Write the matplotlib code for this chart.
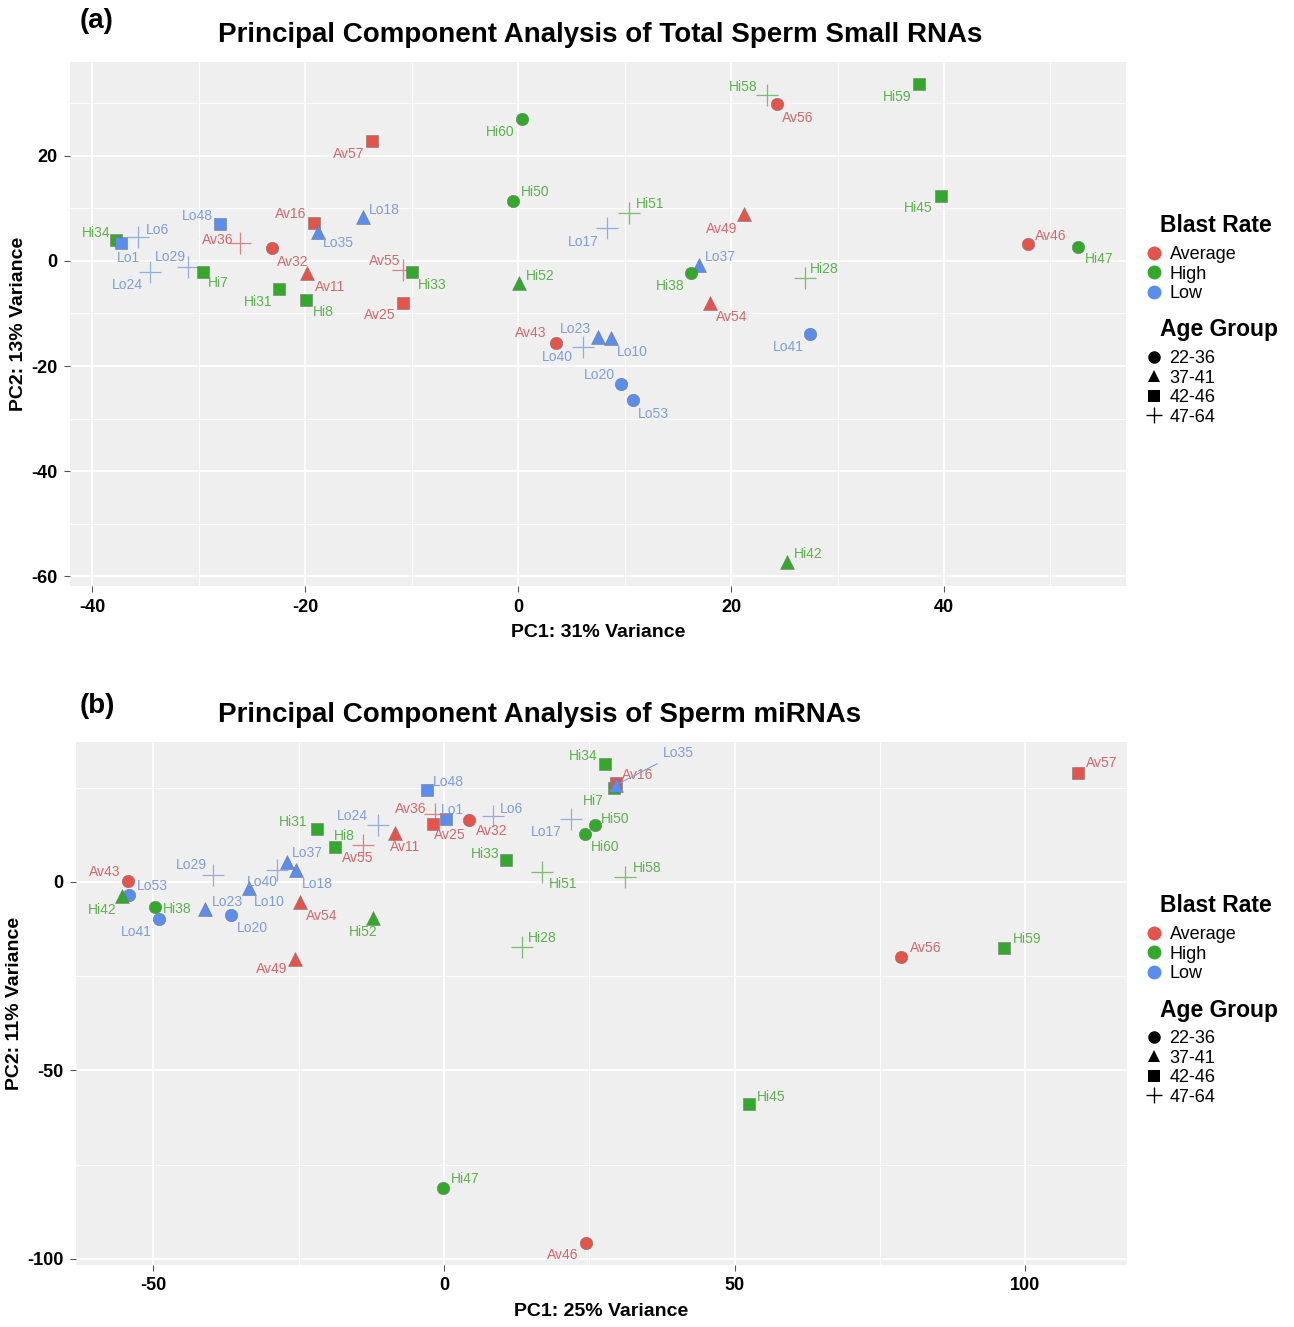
# PCA de small RNAs de esperma - dois painéis (a) e (b)
import numpy as np
import matplotlib.pyplot as plt
from matplotlib.lines import Line2D

plt.rcParams['font.family'] = ['Liberation Sans', 'DejaVu Sans']
plt.rcParams['axes.unicode_minus'] = False

# amostras (mesma ordem nos dois painéis)
amostras = ['Hi34', 'Lo1', 'Lo6', 'Lo29', 'Lo24', 'Lo48', 'Av36', 'Hi7', 'Av32', 'Hi31',
            'Av16', 'Lo35', 'Av11', 'Hi8', 'Lo18', 'Av57', 'Av55', 'Hi33', 'Av25', 'Hi60',
            'Hi50', 'Hi51', 'Lo17', 'Hi52', 'Av49', 'Lo37', 'Hi38', 'Av54', 'Hi58', 'Av56',
            'Hi59', 'Hi45', 'Av46', 'Hi47', 'Hi28', 'Lo41', 'Av43', 'Lo40', 'Lo23', 'Lo10',
            'Lo20', 'Lo53', 'Hi42']
blast = ['High', 'Low', 'Low', 'Low', 'Low', 'Low', 'Average', 'High', 'Average', 'High',
         'Average', 'Low', 'Average', 'High', 'Low', 'Average', 'Average', 'High', 'Average', 'High',
         'High', 'High', 'Low', 'High', 'Average', 'Low', 'High', 'Average', 'High', 'Average',
         'High', 'High', 'Average', 'High', 'High', 'Low', 'Average', 'Low', 'Low', 'Low',
         'Low', 'Low', 'High']
idade = ['42-46', '42-46', '47-64', '47-64', '47-64', '42-46', '47-64', '42-46', '22-36', '42-46',
         '42-46', '37-41', '37-41', '42-46', '37-41', '42-46', '47-64', '42-46', '42-46', '22-36',
         '22-36', '47-64', '47-64', '37-41', '37-41', '37-41', '22-36', '37-41', '47-64', '22-36',
         '42-46', '42-46', '22-36', '22-36', '47-64', '22-36', '22-36', '47-64', '37-41', '37-41',
         '22-36', '22-36', '37-41']

# painel (a): total small RNAs
pc1_a = [-37.8, -37.3, -35.7, -31.0, -34.6, -28.0, -26.1, -29.6, -23.1, -22.5,
         -19.2, -18.8, -19.8, -19.9, -14.6, -13.7, -10.8, -10.0, -10.8, 0.4,
         -0.5, 10.4, 8.3, 0.1, 21.2, 17.0, 16.2, 18.0, 23.4, 24.3,
         37.7, 39.7, 47.9, 52.6, 26.9, 27.4, 3.6, 6.1, 7.5, 8.7,
         9.7, 10.8, 25.3]
pc2_a = [4.0, 3.4, 4.6, -1.1, -2.1, 7.0, 3.4, -2.1, 2.5, -5.3,
         7.2, 5.5, -2.3, -7.4, 8.4, 22.9, -1.7, -2.1, -8.0, 27.0,
         11.4, 9.1, 6.3, -4.2, 9.0, -0.8, -2.3, -8.0, 31.6, 29.9,
         33.7, 12.4, 3.2, 2.7, -3.2, -13.9, -15.6, -16.4, -14.5, -14.7,
         -23.4, -26.5, -57.3]

# painel (b): miRNAs
pc1_b = [27.7, 0.3, 8.4, -39.8, -11.4, -2.9, -1.5, 29.2, 4.3, -21.9,
         29.6, 29.6, -8.4, -18.8, -25.5, 109.1, -13.9, 10.7, -1.9, 24.3,
         26.0, 16.8, 21.8, -12.2, -25.6, -27.0, -49.7, -24.8, 31.2, 78.7,
         96.4, 52.5, 24.4, -0.2, 13.4, -49.1, -54.4, -28.7, -41.1, -33.6,
         -36.7, -54.2, -55.4]
pc2_b = [31.3, 16.7, 17.5, 1.9, 15.1, 24.4, 18.0, 25.0, 16.4, 14.1,
         26.3, 25.7, 13.0, 9.3, 3.2, 28.9, 9.8, 5.8, 15.4, 12.7,
         15.1, 2.7, 16.7, -9.5, -20.4, 5.3, -6.6, -5.3, 1.3, -20.0,
         -17.6, -58.9, -95.8, -81.2, -17.2, -9.8, 0.3, 3.2, -7.2, -1.6,
         -8.8, -3.4, -3.7]

# deslocamento dos rótulos (pixels), imitando o ggrepel
off_a = [(-20, 7), (7, -15), (19, 7), (-18, 10), (-22, -13), (-23, 8), (-23, 3), (15, -11), (21, -14), (-21, -13),
         (-23, 9), (20, -11), (23, -14), (17, -12), (22, 7), (-24, -13), (-18, 9), (20, -13), (-23, -12), (-22, -13),
         (22, 9), (21, 9), (-23, -14), (21, 7), (-22, -15), (21, 8), (-20, -13), (22, -14), (-24, 8), (21, -14),
         (-22, -13), (-23, -12), (23, 8), (21, -12), (20, 9), (-22, -13), (-26, 10), (-26, -10), (-23, 8), (22, -14),
         (-22, 9), (20, -14), (21, 8)]
off_b = [(-22, 8), (7, 9), (19, 7), (-21, 10), (-25, 9), (21, 8), (-25, 5), (-20, -13), (23, -11), (-24, 7),
         (22, 8), (62, 32), (10, -14), (10, 11), (22, -14), (24, 10), (-5, -13), (-21, 6), (17, -11), (20, -13),
         (20, 6), (21, -12), (-24, -13), (-10, -14), (-23, -10), (20, 9), (22, -2), (22, -14), (22, 9), (24, 9),
         (23, 9), (22, 7), (-23, -12), (22, 9), (20, 9), (-22, -13), (-23, 9), (-15, -12), (22, 7), (21, -14),
         (22, -13), (23, 9), (-20, -14)]
segmentos_b = ['Lo35', 'Hi7']

cores = {'Average': '#E5534B', 'High': '#34A82B', 'Low': '#5A8DEE'}
cores_txt = {'Average': '#D06A6A', 'High': '#5CB24E', 'Low': '#7D9DDC'}
formas = {'22-36': 'o', '37-41': '^', '42-46': 's', '47-64': '+'}
tamanhos = {'22-36': 80, '37-41': 100, '42-46': 85, '47-64': 260}

W, H = 1294, 1327
fig = plt.figure(figsize=(W / 100, H / 100), dpi=100)


def painel(rect, pc1, pc2, offs, segs, xlim, ylim, xt, xminor, yt, yminor, xlab, ylab):
    ax = fig.add_axes(rect)
    ax.set_facecolor('#EFEFEF')
    for s in ax.spines.values():
        s.set_visible(False)
    ax.set_xlim(xlim)
    ax.set_ylim(ylim)
    ax.set_xticks(xt)
    ax.set_yticks(yt)
    ax.set_xticks(xminor, minor=True)
    ax.set_yticks(yminor, minor=True)
    ax.grid(which='major', color='white', lw=1.3)
    ax.grid(which='minor', color='white', lw=0.6)
    ax.set_axisbelow(True)
    ax.tick_params(which='major', length=4, color='#555555', labelsize=13, pad=5)
    ax.tick_params(which='minor', length=0)
    for lab in ax.get_xticklabels() + ax.get_yticklabels():
        lab.set_fontweight('bold')
    ax.set_xlabel(xlab, fontsize=14, fontweight='bold', labelpad=6)
    ax.set_ylabel(ylab, fontsize=14, fontweight='bold', labelpad=3)

    for i, nome in enumerate(amostras):
        g, a = blast[i], idade[i]
        if a == '47-64':
            ax.scatter(pc1[i], pc2[i], marker='+', s=tamanhos[a], color=cores_txt[g],
                       linewidths=0.9, alpha=0.8, zorder=3)
        else:
            ax.scatter(pc1[i], pc2[i], marker=formas[a], s=tamanhos[a], color=cores[g],
                       edgecolors='#777777', linewidths=0.4, zorder=3)
        seta = dict(arrowstyle='-', color=cores_txt[g], lw=0.8, shrinkA=2, shrinkB=3) if nome in segs else None
        ax.annotate(nome, (pc1[i], pc2[i]), xytext=offs[i], textcoords='offset pixels',
                    ha='center', va='center', fontsize=10, color=cores_txt[g], zorder=4,
                    arrowprops=seta)
    return ax


painel([70 / W, 1 - 586 / H, 1056 / W, 524 / H], pc1_a, pc2_a, off_a, [],
       (-42.1, 57.1), (-61.9, 37.9), [-40, -20, 0, 20, 40], [-30, -10, 10, 30, 50],
       [-60, -40, -20, 0, 20], [-50, -30, -10, 10, 30],
       'PC1: 31% Variance', 'PC2: 13% Variance')
painel([76 / W, 1 - 1265 / H, 1051 / W, 523 / H], pc1_b, pc2_b, off_b, segmentos_b,
       (-63.3, 117.5), (-101.6, 37.1), [-50, 0, 50, 100], [-25, 25, 75],
       [-100, -50, 0], [-75, -25, 25],
       'PC1: 25% Variance', 'PC2: 11% Variance')

fig.text(80 / W, 1 - 21 / H, '(a)', fontsize=20, fontweight='bold', va='center')
fig.text(218 / W, 1 - 35 / H, 'Principal Component Analysis of Total Sperm Small RNAs',
         fontsize=20, fontweight='bold', ha='left', va='center')
fig.text(80 / W, 1 - 706 / H, '(b)', fontsize=20, fontweight='bold', va='center')
fig.text(218 / W, 1 - 715 / H, 'Principal Component Analysis of Sperm miRNAs',
         fontsize=20, fontweight='bold', ha='left', va='center')

# legendas
h_blast = [Line2D([], [], ls='', marker='o', ms=9, color=cores[k]) for k in ['Average', 'High', 'Low']]
h_idade = [Line2D([], [], ls='', marker=formas[k], ms=(12 if k == '47-64' else 9), color='black',
                  mew=(1 if k == '47-64' else 0)) for k in ['22-36', '37-41', '42-46', '47-64']]


def legenda(y_t1, y_l1, y_t2, y_l2):
    fig.text(1160 / W, 1 - y_t1 / H, 'Blast Rate', fontsize=16.5, fontweight='bold', va='center')
    fig.text(1160 / W, 1 - y_t2 / H, 'Age Group', fontsize=16.5, fontweight='bold', va='center')
    for hs, labs, y in [(h_blast, ['Average', 'High', 'Low'], y_l1),
                        (h_idade, ['22-36', '37-41', '42-46', '47-64'], y_l2)]:
        fig.legend(hs, labs, loc='upper left', bbox_to_anchor=(1147 / W, 1 - y / H),
                   frameon=False, fontsize=13, handlelength=0.8, handletextpad=0.45,
                   labelspacing=0.14, borderpad=0, borderaxespad=0)


legenda(225, 246, 330, 350)
legenda(905, 926, 1010, 1030)

fig.savefig('out.png', dpi=100)
